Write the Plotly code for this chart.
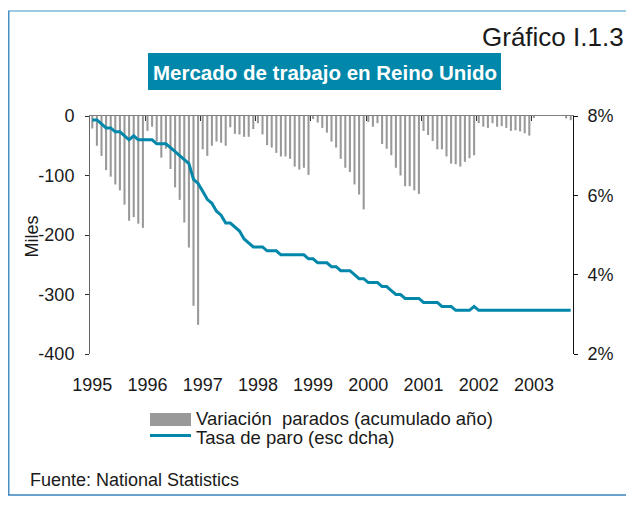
import plotly.graph_objects as go

# ---------------- data ----------------
years = ["1995", "1996", "1997", "1998", "1999", "2000", "2001", "2002", "2003"]

# Variación parados (acumulado año), miles, monthly
var_1995 = [-21, -50, -67, -91, -102, -115, -125, -149, -176, -170, -181, -188]
var_1996 = [-25, -18, -43, -70, -55, -89, -120, -141, -179, -221, -319, -351]
var_1997 = [-56, -67, -50, -43, -45, -50, -19, -30, -31, -35, -35, -22]
var_1998 = [-12, -31, -49, -53, -62, -68, -68, -72, -85, -90, -87, -99]
var_1999 = [-5, -11, -20, -28, -43, -53, -72, -87, -94, -115, -132, -157]
var_2000 = [-10, -18, -12, -47, -55, -66, -87, -100, -118, -118, -125, -131]
var_2001 = [-25, -32, -42, -56, -56, -68, -80, -81, -85, -77, -71, -66]
var_2002 = [-12, -18, -20, -12, -18, -17, -20, -25, -24, -26, -29, -33]
var_2003 = [-3, 2, 4, 3, 5, 2, 1, -4, -7]

# Tasa de paro (%), monthly
tasa_1995 = [7.9, 7.9, 7.8, 7.7, 7.7, 7.6, 7.6, 7.5, 7.4, 7.5, 7.4, 7.4]
tasa_1996 = [7.4, 7.4, 7.3, 7.3, 7.3, 7.2, 7.1, 7.0, 6.9, 6.8, 6.4, 6.3]
tasa_1997 = [6.1, 5.9, 5.8, 5.6, 5.5, 5.3, 5.3, 5.2, 5.1, 4.9, 4.8, 4.7]
tasa_1998 = [4.7, 4.7, 4.6, 4.6, 4.6, 4.5, 4.5, 4.5, 4.5, 4.5, 4.5, 4.4]
tasa_1999 = [4.4, 4.3, 4.3, 4.3, 4.2, 4.2, 4.1, 4.1, 4.1, 4.0, 3.9, 3.9]
tasa_2000 = [3.8, 3.8, 3.8, 3.7, 3.7, 3.6, 3.5, 3.5, 3.4, 3.4, 3.4, 3.4]
tasa_2001 = [3.3, 3.3, 3.3, 3.3, 3.2, 3.2, 3.2, 3.1, 3.1, 3.1, 3.1, 3.2]
tasa_2002 = [3.1, 3.1, 3.1, 3.1, 3.1, 3.1, 3.1, 3.1, 3.1, 3.1, 3.1, 3.1]
tasa_2003 = [3.1, 3.1, 3.1, 3.1, 3.1, 3.1, 3.1, 3.1, 3.1]

left_ticks = [0, -100, -200, -300, -400]
left_labels = ["0", "-100", "-200", "-300", "-400"]
right_ticks = [2, 4, 6, 8]
right_labels = ["2%", "4%", "6%", "8%"]

variacion = (var_1995 + var_1996 + var_1997 + var_1998 + var_1999 +
             var_2000 + var_2001 + var_2002 + var_2003)
tasa = (tasa_1995 + tasa_1996 + tasa_1997 + tasa_1998 + tasa_1999 +
        tasa_2000 + tasa_2001 + tasa_2002 + tasa_2003)
months = list(range(len(variacion)))
n = len(months)

# ---------------- layout helpers ----------------
# the page body has an 8px margin, so the figure is drawn 8px in and
# all reference pixel positions are shifted by OFF
OFF = 8
W, H = 626, 498
L, T = 90 - OFF, 116 - OFF
PW, PH = 483, 238
R, B = W - L - PW, H - T - PH


def px(x):
    return (x - OFF - L) / PW


def py(y):
    return (T + PH - (y - OFF)) / PH


TEAL = "#0087AA"
GRAY = "#999999"
FONT = "Liberation Sans, Arial, Helvetica, sans-serif"

fig = go.Figure()
fig.add_trace(go.Bar(x=months, y=variacion, marker_color=GRAY,
                     marker_line_width=0, xaxis="x", yaxis="y",
                     name="Variación  parados (acumulado año)"))
fig.add_trace(go.Scatter(x=months, y=tasa, mode="lines",
                         line=dict(color=TEAL, width=3),
                         xaxis="x2", yaxis="y2",
                         name="Tasa de paro (esc dcha)"))

rng = [-0.5, n - 0.5]
fig.update_layout(
    width=W, height=H,
    margin=dict(l=L, r=R, t=T, b=B, pad=0),
    paper_bgcolor="white", plot_bgcolor="white",
    showlegend=False,
    bargap=0.55,
    font=dict(family=FONT, size=18, color="#1a1a1a"),
    xaxis=dict(range=rng, side="top", anchor="y", showline=True,
               linecolor="#808080", linewidth=1, ticks="inside", ticklen=5,
               tickcolor="#333333", tickvals=[12 * k - 0.5 for k in range(len(years))],
               showticklabels=False, showgrid=False, zeroline=False),
    xaxis2=dict(range=rng, overlaying="x", side="bottom", anchor="y2",
                showline=False, ticks="", tickvals=[12 * k for k in range(len(years))],
                ticktext=years, showgrid=False, zeroline=False,
                tickfont=dict(size=18), ticklabelstandoff=18),
    yaxis=dict(range=[-400, 0], tickvals=left_ticks, ticktext=left_labels,
               showline=True, linecolor="#666666", linewidth=1, ticks="outside",
               ticklen=4, tickcolor="#333333", showgrid=False, zeroline=False,
               tickfont=dict(size=18), ticklabelstandoff=7),
    yaxis2=dict(range=[2, 8], overlaying="y", side="right", anchor="x2",
                tickvals=right_ticks, ticktext=right_labels, showline=True,
                linecolor="#111111", linewidth=1, ticks="outside", ticklen=4,
                tickcolor="#111111", showgrid=False, zeroline=False,
                tickfont=dict(size=18), ticklabelstandoff=6),
)

shapes = [
    # frame
    dict(type="line", xref="paper", yref="paper", x0=px(8), x1=px(640),
         y0=py(11), y1=py(11), line=dict(color="#7DB8DA", width=1.5)),
    dict(type="line", xref="paper", yref="paper", x0=px(8.75), x1=px(8.75),
         y0=py(11), y1=py(495), line=dict(color="#4A8FC4", width=1.5)),
    dict(type="line", xref="paper", yref="paper", x0=px(8), x1=px(640),
         y0=py(495), y1=py(495), line=dict(color="#3B82BC", width=1.5)),
    # title box
    dict(type="rect", xref="paper", yref="paper", x0=px(148), x1=px(501),
         y0=py(90), y1=py(53), fillcolor=TEAL, line=dict(width=0)),
    # legend symbols
    dict(type="rect", xref="paper", yref="paper", x0=px(150), x1=px(191),
         y0=py(426), y1=py(413), fillcolor=GRAY, line=dict(width=0)),
    dict(type="line", xref="paper", yref="paper", x0=px(150), x1=px(191),
         y0=py(435.5), y1=py(435.5), line=dict(color=TEAL, width=3)),
]

annotations = [
    dict(text="Gráfico I.1.3", xref="paper", yref="paper", x=px(626), y=py(37),
         xanchor="right", yanchor="middle", showarrow=False,
         font=dict(size=26, color="#1a1a1a")),
    dict(text="<b>Mercado de trabajo en Reino Unido</b>", xref="paper", yref="paper",
         x=px(324.5), y=py(72), xanchor="center", yanchor="middle", showarrow=False,
         font=dict(size=20.5, color="white")),
    dict(text="Miles", xref="paper", yref="paper", x=px(31.5), y=py(237),
         xanchor="center", yanchor="middle", textangle=-90, showarrow=False,
         font=dict(size=18)),
    dict(text="Variación\u00a0 parados (acumulado año)", xref="paper", yref="paper",
         x=px(194), y=py(418.5), xanchor="left", yanchor="middle", showarrow=False,
         font=dict(size=18.5)),
    dict(text="Tasa de paro (esc dcha)", xref="paper", yref="paper",
         x=px(194), y=py(437.5), xanchor="left", yanchor="middle", showarrow=False,
         font=dict(size=18.5)),
    dict(text="Fuente: National Statistics", xref="paper", yref="paper",
         x=px(28), y=py(480), xanchor="left", yanchor="middle", showarrow=False,
         font=dict(size=18)),
]

fig.update_layout(shapes=shapes, annotations=annotations)
fig.write_html("out.html")
